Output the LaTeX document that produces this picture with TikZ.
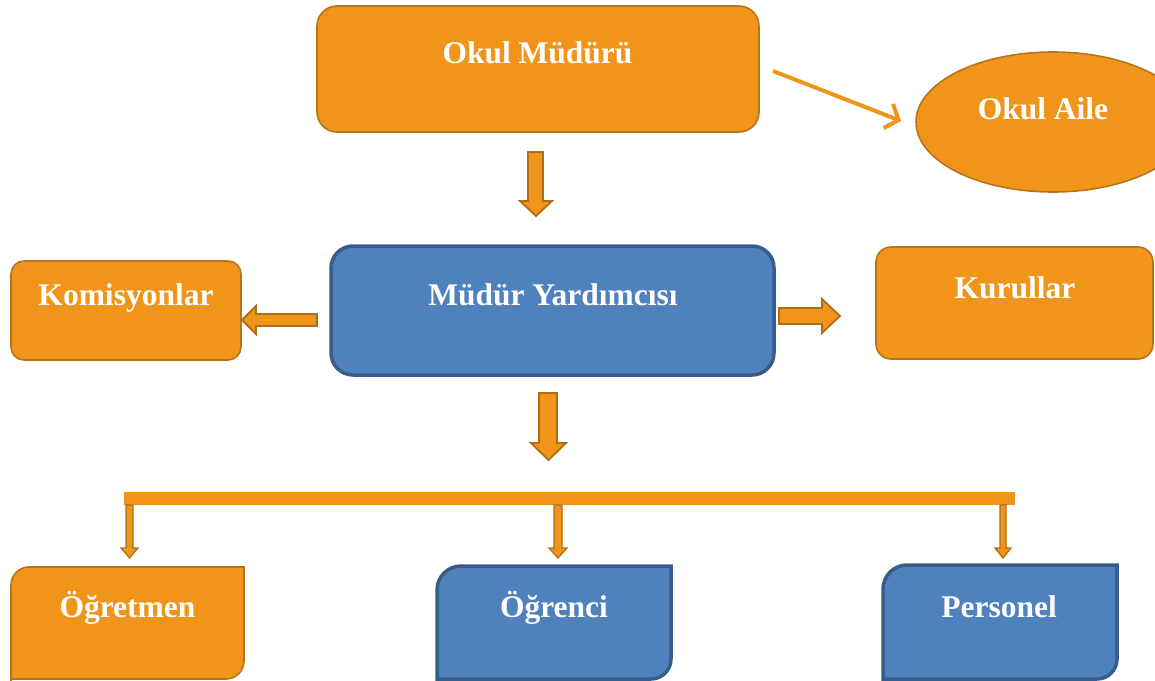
\documentclass[tikz,border=0pt]{standalone}
\usepackage{fontspec}
\setmainfont{Liberation Serif}
\usetikzlibrary{shapes.geometric,arrows.meta}
\definecolor{orfill}{HTML}{F0951A}
\definecolor{ordraw}{HTML}{B8741C}
\definecolor{arrdraw}{HTML}{B06D12}
\definecolor{blfill}{HTML}{4F81BD}
\definecolor{bldraw}{HTML}{385D8A}
\tikzset{
  obox/.style={draw=ordraw, fill=orfill, line width=1.6pt, inner sep=0pt},
  bbox/.style={draw=bldraw, fill=blfill, line width=3.5pt, inner sep=0pt},
  lbl/.style={anchor=base, text=white, font=\fontsize{31.5}{36}\selectfont\bfseries, inner sep=0pt},
  blockarrow/.style={draw=arrdraw, fill=orfill, line width=1.8pt, line join=miter},
  thinarrow/.style={draw=arrdraw, fill=orfill, line width=1.2pt, line join=miter},
}
\begin{document}
\begin{tikzpicture}[x=1pt,y=-1pt]
\useasboundingbox (0,0) rectangle (1155,680);

% ---- boxes ----
\node[obox, rounded corners=20pt, minimum width=442pt, minimum height=126pt] (om) at (538,69) {};
\node[lbl] (omt) at (537.5,63) {Okul Müdürü};

\node[ellipse, draw=ordraw, fill=orfill, line width=1.6pt, minimum width=274pt, minimum height=140pt, inner sep=0pt] (oa) at (1053,122) {};
\node[lbl] (oat) at (1043,119) {Okul Aile};

\node[bbox, rounded corners=22pt, minimum width=443pt, minimum height=129pt] (my) at (552.5,310.5) {};
\node[lbl] (myt) at (553,305) {Müdür Yardımcısı};

\node[obox, rounded corners=13pt, minimum width=230pt, minimum height=99pt] (ko) at (126,310.5) {};
\node[lbl] (kot) at (126,305) {Komisyonlar};

\node[obox, rounded corners=15pt, minimum width=277pt, minimum height=112pt] (ku) at (1014.5,303) {};
\node[lbl] (kut) at (1015,298) {Kurullar};

% bottom boxes (round diagonal corners)
\path[obox] (11,690) -- (11,585) arc (180:270:18) -- (244,567) -- (244,661) arc (0:90:18) -- (11,679) -- cycle;
\node[lbl] (ogt) at (127.5,617) {Öğretmen};

\path[bbox] (437,690) -- (437,590) arc (180:270:24) -- (671,566) -- (671,659) arc (0:90:20) -- (437,679) -- cycle;
\node[lbl] (oct) at (554,617) {Öğrenci};

\path[bbox] (883,690) -- (883,589) arc (180:270:24) -- (1117,565) -- (1117,659) arc (0:90:20) -- (883,679) -- cycle;
\node[lbl] (pet) at (999,617) {Personel};

% ---- connectors ----
\coordinate (a1s) at (773,71);
\coordinate (a1e) at (901,121);
\draw[draw=orfill, line width=4pt, -{Straight Barb[length=11pt,width=26pt,line width=4pt]}] (a1s) -- (a1e);

% block arrow down (Okul Müdürü -> Müdür Yardımcısı)
\path[blockarrow] (528,152) -- (543,152) -- (543,201) -- (552,201) -- (536,216) -- (520,201) -- (528,201) -- cycle;
% block arrow left (-> Komisyonlar)
\path[blockarrow] (317,314) -- (317,326) -- (256,326) -- (256,334) -- (242,320) -- (256,306) -- (256,314) -- cycle;
% block arrow right (-> Kurullar)
\path[blockarrow] (779,308) -- (822,308) -- (822,299) -- (840,316) -- (822,333) -- (822,324) -- (779,324) -- cycle;
% block arrow down (-> bar)
\path[blockarrow] (539,393) -- (557,393) -- (557,443) -- (566,443) -- (548.5,460) -- (531,443) -- (539,443) -- cycle;

% bar
\fill[orfill] (124,492) rectangle (1015,505);

% small down arrows
\path[thinarrow] (126,505) -- (133,505) -- (133,548) -- (138,548) -- (129.5,558) -- (121,548) -- (126,548) -- cycle;
\path[thinarrow] (554,505) -- (562,505) -- (562,548) -- (567,548) -- (558,558) -- (549,548) -- (554,548) -- cycle;
\path[thinarrow] (1000,505) -- (1006,505) -- (1006,548) -- (1011,548) -- (1003,558) -- (995,548) -- (1000,548) -- cycle;
\end{tikzpicture}
\end{document}
